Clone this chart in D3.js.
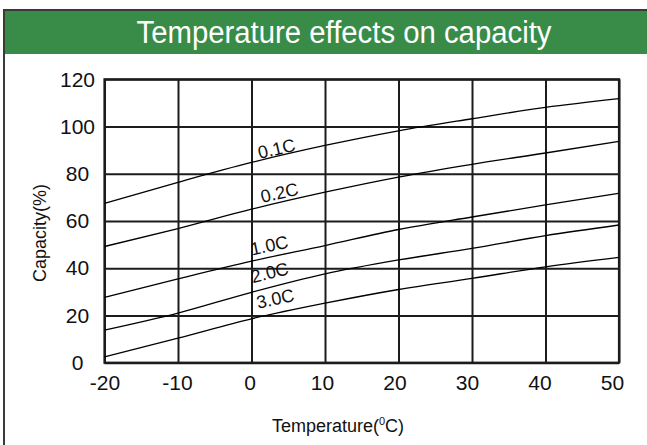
<!DOCTYPE html>
<html>
<head>
<meta charset="utf-8">
<script src="https://cdn.jsdelivr.net/npm/d3@7"></script>
<style>
  body { margin: 0; background: #fff; }
  svg { display: block; font-family: "Liberation Sans", Arial, sans-serif; }
</style>
</head>
<body>
<div id="viz"></div>
<script>
var svg_width = 647;
var svg_height = 445;

// data
var temperatures = [-20, -10, 0, 10, 20, 30, 40, 50];
var rate_names = ["0.1C", "0.2C", "1.0C", "2.0C", "3.0C"];
var cap_01C = [67.5, 76.4, 84.8, 92, 98.2, 103.3, 108.1, 111.8];
var cap_02C = [49.2, 56.8, 65, 72.2, 78.6, 84, 88.8, 93.7];
var cap_10C = [27.7, 35.5, 43, 49.6, 56.4, 61.7, 66.8, 71.7];
var cap_20C = [13.8, 21, 29.8, 37.6, 43.5, 48.4, 53.8, 58.3];
var cap_30C = [2.5, 10.4, 18.6, 25.2, 31, 35.7, 40.6, 44.6];
var x_ticks = [-20, -10, 0, 10, 20, 30, 40, 50];
var y_ticks = [0, 20, 40, 60, 80, 100, 120];

var series = [cap_01C, cap_02C, cap_10C, cap_20C, cap_30C];

// where each curve label sits (temperature) and how far above its line (px)
var label_at = [3.65, 4.1, 2.75, 2.97, 3.65];
var label_lift = [1.5, 3.5, 5.5, 8.5, 8.5];

var plot_left = 104.5, plot_right = 619, plot_top = 79.3, plot_bottom = 362.7;
var grid_color = "#1c1c1c";

var svg = d3.select('#viz')
  .append('svg')
  .attr('width', svg_width)
  .attr('height', svg_height);

// frame and title bar
svg.append('line')
  .attr('x1', 4).attr('x2', svg_width).attr('y1', 10).attr('y2', 10)
  .attr('stroke', '#3a3a3a').attr('stroke-width', 2);
svg.append('line')
  .attr('x1', 4).attr('x2', 4).attr('y1', 9).attr('y2', svg_height)
  .attr('stroke', '#3a3a3a').attr('stroke-width', 2);
svg.append('rect')
  .attr('x', 5).attr('y', 11).attr('width', svg_width - 5).attr('height', 43)
  .attr('fill', '#388c48');
svg.append('text')
  .attr('x', 344).attr('y', 43)
  .attr('text-anchor', 'middle')
  .attr('fill', 'white')
  .attr('font-size', '31px')
  .attr('textLength', 415)
  .attr('lengthAdjust', 'spacingAndGlyphs')
  .text('Temperature effects on capacity');

var x = d3.scaleLinear().domain([-20, 50]).range([plot_left, plot_right]);
var y = d3.scaleLinear().domain([0, 120]).range([plot_bottom, plot_top]);

// grid via axes
var gx = svg.append('g')
  .attr('transform', 'translate(0,' + plot_bottom + ')')
  .call(d3.axisBottom(x).tickValues(x_ticks).tickFormat(String)
    .tickSize(-(plot_bottom - plot_top)).tickPadding(12));
var gy = svg.append('g')
  .attr('transform', 'translate(' + plot_left + ',0)')
  .call(d3.axisLeft(y).tickValues(y_ticks).tickFormat(String)
    .tickSize(-(plot_right - plot_left)));

[gx, gy].forEach(function(g){
  g.select('.domain').remove();
  g.selectAll('.tick line').attr('stroke', grid_color).attr('stroke-width', 2);
  g.selectAll('.tick text')
    .attr('fill', '#111')
    .attr('font-size', '21px')
    .attr('font-family', '"Liberation Sans", Arial, sans-serif');
});
gy.selectAll('.tick text')
  .attr('text-anchor', 'middle')
  .attr('x', -27);
// labels in the picture drift a little left of their gridlines
gx.selectAll('.tick text')
  .attr('dx', function(d, i){ return -i; });

svg.append('rect')
  .attr('x', plot_left).attr('y', plot_top)
  .attr('width', plot_right - plot_left).attr('height', plot_bottom - plot_top)
  .attr('fill', 'none')
  .attr('stroke', grid_color)
  .attr('stroke-width', 2.2);

// curves
var line = d3.line()
  .x(function(d, i){ return x(temperatures[i]); })
  .y(function(d){ return y(d); })
  .curve(d3.curveMonotoneX);

svg.selectAll('path.curve')
  .data(series)
  .enter()
  .append('path')
  .attr('class', 'curve')
  .attr('d', line)
  .attr('fill', 'none')
  .attr('stroke', '#000')
  .attr('stroke-width', 1.3);

function valueAt(vals, t){
  var i = d3.bisectRight(temperatures, t) - 1;
  i = Math.max(0, Math.min(i, temperatures.length - 2));
  var f = (t - temperatures[i]) / (temperatures[i + 1] - temperatures[i]);
  return vals[i] + f * (vals[i + 1] - vals[i]);
}

svg.selectAll('text.rate')
  .data(series)
  .enter()
  .append('text')
  .attr('class', 'rate')
  .attr('transform', function(d, i){
    var t = label_at[i];
    var ang = Math.atan2(y(d[3]) - y(d[2]), x(temperatures[3]) - x(temperatures[2])) * 180 / Math.PI;
    return 'translate(' + x(t) + ',' + y(valueAt(d, t)) + ') rotate(' + ang + ')';
  })
  .attr('dy', function(d, i){ return -label_lift[i]; })
  .attr('text-anchor', 'middle')
  .attr('font-size', '18px')
  .attr('fill', '#111')
  .text(function(d, i){ return rate_names[i]; });

// axis titles
svg.append('text')
  .attr('transform', 'translate(46,233) rotate(-90)')
  .attr('text-anchor', 'middle')
  .attr('font-size', '18px')
  .attr('fill', '#111')
  .text('Capacity(%)');

var xt = svg.append('text')
  .attr('x', 338).attr('y', 432)
  .attr('text-anchor', 'middle')
  .attr('font-size', '18px')
  .attr('fill', '#111');
xt.append('tspan').text('Temperature(');
xt.append('tspan').attr('font-size', '11px').attr('dy', -7).text('0');
xt.append('tspan').attr('dy', 7).text('C)');
</script>
</body>
</html>
